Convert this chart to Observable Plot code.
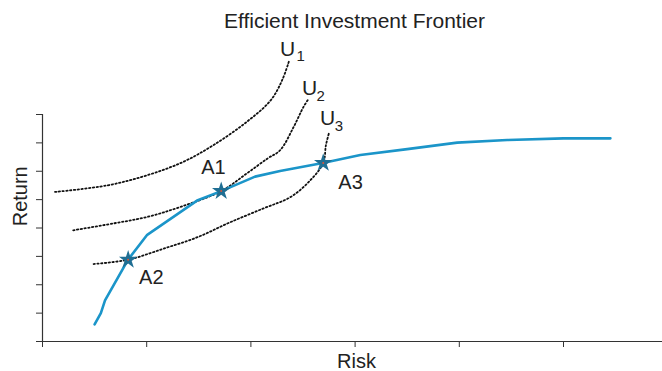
<!DOCTYPE html>
<html>
<head>
<meta charset="utf-8">
<script src="https://cdn.jsdelivr.net/npm/d3@7"></script>
<script src="https://cdn.jsdelivr.net/npm/@observablehq/plot@0.6"></script>
<style>
  html, body { margin: 0; padding: 0; background: #fff; }
</style>
</head>
<body>
<div id="chart"></div>
<script>
// ---- data ----
const title = "Efficient Investment Frontier";
const xLabel = "Risk";
const yLabel = "Return";
const xTicks = [0, 1, 2, 3, 4, 5];
const yTicks = [0, 1, 2, 3, 4, 5, 6, 7, 8];

// efficient frontier
const frontierRisk   = [0.50, 0.56, 0.60, 0.82, 1.005, 1.49, 1.715, 2.04, 2.28, 2.69, 3.05, 3.50, 3.98, 4.46, 5.00, 5.45];
const frontierReturn = [0.60, 1.00, 1.45, 2.88, 3.76, 4.98, 5.30, 5.81, 6.01, 6.29, 6.57, 6.78, 7.01, 7.10, 7.16, 7.16];

// indifference curves
const u1Risk   = [0.12, 0.62, 1.005, 1.35, 1.64, 1.96, 2.19, 2.30, 2.364];
const u1Return = [5.27, 5.50, 5.86, 6.33, 6.92, 7.74, 8.50, 9.21, 9.86];
const u2Risk   = [0.295, 0.68, 1.005, 1.32, 1.715, 1.96, 2.16, 2.28, 2.41, 2.505, 2.55];
const u2Return = [3.92, 4.16, 4.39, 4.74, 5.30, 5.92, 6.45, 6.74, 7.56, 8.27, 8.53];
const u3Risk   = [0.49, 0.82, 1.16, 1.49, 1.80, 2.12, 2.38, 2.57, 2.694, 2.72, 2.748];
const u3Return = [2.73, 2.88, 3.27, 3.68, 4.20, 4.69, 5.09, 5.68, 6.29, 6.92, 7.33];

// optimal points
const pointNames  = ["A1", "A2", "A3"];
const pointRisk   = [1.715, 0.822, 2.694];
const pointReturn = [5.30, 2.88, 6.29];
// point label anchors
const pointLabelRisk   = [1.640, 1.044, 2.956];
const pointLabelReturn = [5.89, 2.01, 5.39];

// curve labels  (U + subscript)
const curveNames = ["1", "2", "3"];
const curveLabelRisk   = [2.353, 2.564, 2.737];
const curveLabelReturn = [10.07, 8.68, 7.62];
const curveSubRisk     = [2.437, 2.630, 2.805];
const curveSubReturn   = [9.89, 8.48, 7.42];

// ---- build tables ----
const zip = (xs, ys) => xs.map((x, i) => ({x, y: ys[i]}));
const frontier = zip(frontierRisk, frontierReturn);
const curves = [zip(u1Risk, u1Return), zip(u2Risk, u2Return), zip(u3Risk, u3Return)];
const points = pointNames.map((n, i) => ({n, x: pointRisk[i], y: pointReturn[i]}));
const pointLabels = pointNames.map((n, i) => ({n, x: pointLabelRisk[i], y: pointLabelReturn[i]}));
const uLabels = curveNames.map((n, i) => ({n, x: curveLabelRisk[i], y: curveLabelReturn[i]}));
const uSubs = curveNames.map((n, i) => ({n, x: curveSubRisk[i], y: curveSubReturn[i]}));

const axisColor = "#333";
const textColor = "#222";
const lineColor = "#1b95c9";
const starColor = "#1f6e93";

const chart = Plot.plot({
  width: 662,
  height: 371,
  marginLeft: 42,
  marginRight: 0,
  marginTop: 114,
  marginBottom: 30,
  x: {domain: [0, 5.95]},
  y: {domain: [0, 8]},
  style: {
    fontFamily: "'Liberation Sans', Arial, Helvetica, sans-serif",
    fontSize: "20px",
    background: "#fff",
    color: textColor,
    overflow: "visible"
  },
  marks: [
    Plot.axisX({ticks: xTicks, tickFormat: () => "", tickSize: 6, stroke: axisColor, label: null}),
    Plot.axisY({ticks: yTicks, tickFormat: () => "", tickSize: 6, stroke: axisColor, label: null}),
    Plot.ruleX([0], {stroke: axisColor, strokeWidth: 1.2}),
    Plot.ruleY([0], {stroke: axisColor, strokeWidth: 1.2}),
    ...curves.map(c => Plot.line(c, {
      x: "x", y: "y", curve: "catmull-rom",
      stroke: "#111", strokeWidth: 1.8, strokeDasharray: "1.4 2.4"
    })),
    Plot.line(frontier, {x: "x", y: "y", stroke: lineColor, strokeWidth: 2.6, strokeLinejoin: "round", strokeLinecap: "round"}),
    Plot.dot(points, {x: "x", y: "y", symbol: "star", r: 5.8, fill: starColor, stroke: "none"}),
    Plot.dot(points, {x: "x", y: "y", r: 1, fill: "#d9533a", stroke: "none"}),
    Plot.text(pointLabels, {x: "x", y: "y", text: "n", fontSize: 20, lineAnchor: "bottom", fill: textColor}),
    Plot.text(uLabels, {x: "x", y: "y", text: () => "U", fontSize: 21, lineAnchor: "bottom", fill: textColor}),
    Plot.text(uSubs, {x: "x", y: "y", text: "n", fontSize: 15, textAnchor: "start", lineAnchor: "bottom", fill: textColor}),
    Plot.text([title], {frameAnchor: "top", dx: 2, dy: -86.7, lineAnchor: "bottom", fontSize: 21, fill: textColor}),
    Plot.text([xLabel], {frameAnchor: "bottom", dx: 4, dy: 26.5, lineAnchor: "bottom", fontSize: 20, fill: textColor}),
    Plot.text([yLabel], {frameAnchor: "left", rotate: -90, dx: -15.3, dy: -1.7, lineAnchor: "bottom", fontSize: 20, fill: textColor})
  ]
});
document.getElementById("chart").appendChild(chart);
</script>
</body>
</html>
